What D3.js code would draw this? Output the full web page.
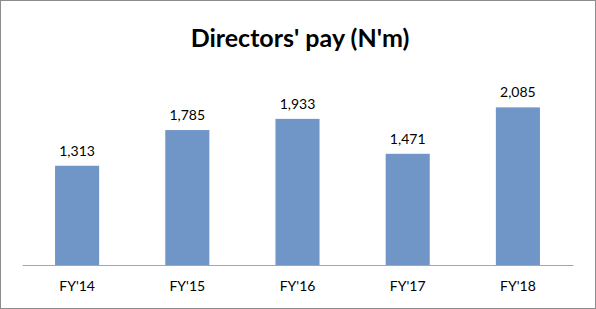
<!DOCTYPE html>
<html>
<head>
<meta charset="utf-8">
<script src="https://cdn.jsdelivr.net/npm/d3@7"></script>
<style>
  body { margin: 0; background: #fff; }
  svg { display: block; }
</style>
</head>
<body>
<script>
const width = 596;
const height = 309;
const margin = { top: 76, right: 23, bottom: 44, left: 22 };

const barColor = "#7096c8";
const axisColor = "#a6a6a6";
const fontFamily = "Lato, 'Open Sans', sans-serif";

const categories = ["FY'14", "FY'15", "FY'16", "FY'17", "FY'18"];
const pay = [1313, 1785, 1933, 1471, 2085];
const titleText = "Directors' pay (N'm)";

const svg = d3.select("body").append("svg")
    .attr("width", width)
    .attr("height", height);

// outer frame
svg.append("rect")
    .attr("x", 0.5).attr("y", 0.5)
    .attr("width", width - 1).attr("height", height - 1)
    .attr("fill", "#fff")
    .attr("stroke", "#8c8c8c");

svg.append("text")
    .attr("x", width / 2 + 2)
    .attr("y", 47)
    .attr("text-anchor", "middle")
    .style("font-family", fontFamily)
    .style("font-weight", "bold")
    .style("font-size", "25px")
    .text(titleText);

const xScale = d3.scaleBand()
    .domain(categories)
    .range([margin.left, width - margin.right])
    .paddingInner(0.6)
    .paddingOuter(0.3);

const yScale = d3.scaleLinear()
    .domain([0, 2500])
    .range([height - margin.bottom, margin.top]);

svg.selectAll(".bar")
    .data(pay)
    .join("rect")
    .attr("class", "bar")
    .attr("x", (d, i) => xScale(categories[i]))
    .attr("y", d => yScale(d))
    .attr("width", xScale.bandwidth())
    .attr("height", d => yScale(0) - yScale(d))
    .attr("fill", barColor);

svg.selectAll(".val")
    .data(pay)
    .join("text")
    .attr("class", "val")
    .attr("x", (d, i) => xScale(categories[i]) + xScale.bandwidth() / 2)
    .attr("y", d => yScale(d) - 10)
    .attr("text-anchor", "middle")
    .style("font-family", fontFamily)
    .style("font-size", "14px")
    .text(d => d3.format(",")(d));

const xAxis = svg.append("g")
    .attr("transform", `translate(0,${yScale(0)})`)
    .call(d3.axisBottom(xScale).tickSize(0).tickPadding(16));

xAxis.select(".domain").attr("stroke", axisColor);
xAxis.selectAll("text")
    .style("font-family", fontFamily)
    .style("font-size", "14px")
    .attr("fill", "#000");
</script>
</body>
</html>
